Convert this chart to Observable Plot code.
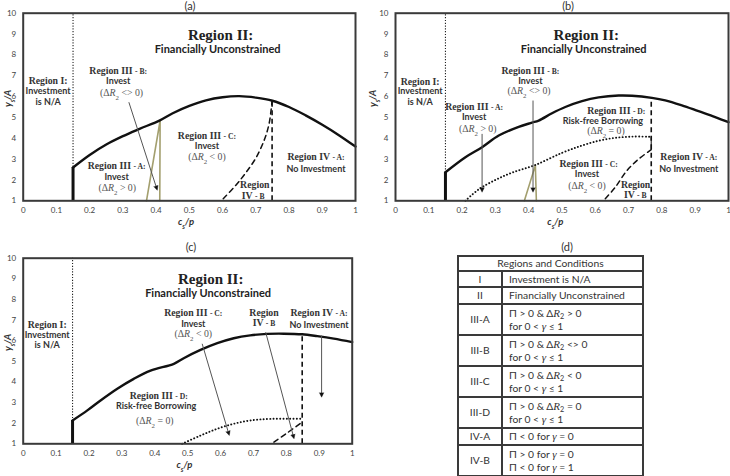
<!DOCTYPE html>
<html><head><meta charset="utf-8">
<script src="https://cdn.jsdelivr.net/npm/d3@7"></script>
<script src="https://cdn.jsdelivr.net/npm/@observablehq/plot@0.6"></script>
<style>
body{margin:0;background:#fff;}
#root{position:relative;width:730px;height:476px;overflow:hidden;background:#fff;}
.panel{position:absolute;}
.ttl{position:absolute;font:11px Lato,sans-serif;color:#333;transform:translate(-50%,-50%);line-height:1;white-space:nowrap;}
#tbl{position:absolute;left:457px;top:255px;}
#tbl table{border-collapse:collapse;table-layout:fixed;width:185px;font:10.3px Lato,sans-serif;color:#333;}
#tbl td{border:2px solid #3a3a3a;padding:0 0 0 6px;line-height:13px;vertical-align:middle;white-space:nowrap;overflow:hidden;}
#tbl td.c0{text-align:center;padding:0;}
#tbl td.hd{text-align:center;padding:0;}
#tbl i{font-family:"Liberation Serif",serif;font-size:11px;}
#tbl sub{font-size:70%;vertical-align:-2px;line-height:0;}
</style></head><body><div id="root"></div>
<script>
// ---------- shared axis ticks ----------
const xTicks = [0, 0.1, 0.2, 0.3, 0.4, 0.5, 0.6, 0.7, 0.8, 0.9, 1];
const yTicks = [1, 2, 3, 4, 5, 6, 7, 8, 9, 10];
const panelTitles = ["(a)", "(b)", "(c)", "(d)"];

// ---------- panel (a) ----------
const aBoundaryI = 0.15;
const aCurveX = [0.15, 0.2, 0.25, 0.3, 0.35, 0.41, 0.45, 0.5, 0.55, 0.6, 0.65, 0.7, 0.75, 0.8, 0.85, 0.9, 0.95, 1.0];
const aCurveY = [2.6, 3.2, 3.7, 4.1, 4.45, 4.85, 5.2, 5.55, 5.82, 5.97, 6.02, 5.95, 5.8, 5.5, 5.1, 4.65, 4.15, 3.6];
const aOliveX = [0.371, 0.412, 0.411];
const aOliveY = [1.0, 4.84, 1.0];
const aDashedX = [0.602, 0.64, 0.67, 0.7, 0.725, 0.74, 0.749];
const aDashedY = [1.1, 1.75, 2.35, 3.05, 3.9, 4.7, 5.8];
const aDashedVX = 0.749, aDashedVTop = 5.8;
const aArrowX1 = [0.318], aArrowY1 = [5.73], aArrowX2 = [0.402], aArrowY2 = [1.58];
const aLabelText = ["Region I:", "Investment", "is N/A", "Region II:", "Financially Unconstrained",
  "Region III ^- B:^", "Invest", "(Δ{R}[2] <> 0)",
  "Region III ^- A:^", "Invest", "(Δ{R}[2] > 0)",
  "Region III ^- C:^", "Invest", "(Δ{R}[2] < 0)",
  "Region IV ^- A:^", "No Investment", "Region", "IV ^- B^"];
const aLabelX = [0.075, 0.075, 0.075, 0.594, 0.585, 0.286, 0.286, 0.296, 0.281, 0.281, 0.283, 0.553, 0.553, 0.553, 0.881, 0.881, 0.697, 0.692];
const aLabelY = [6.77, 6.26, 5.73, 8.95, 8.24, 7.21, 6.72, 6.18, 2.66, 2.13, 1.62, 4.13, 3.6, 3.09, 3.09, 2.53, 1.77, 1.26];
const aLabelKind = ["region", "note", "note", "head", "head2", "region", "note", "math", "region", "note", "math", "region", "note", "math", "region", "note", "region", "region"];

// ---------- panel (b) ----------
const bBoundaryI = 0.15;
const bCurveX = [0.15, 0.21, 0.26, 0.31, 0.37, 0.41, 0.43, 0.47, 0.51, 0.56, 0.61, 0.67, 0.71, 0.77, 0.81, 0.86, 0.91, 0.96, 1.0];
const bCurveY = [2.37, 3.09, 3.57, 4.13, 4.55, 4.75, 4.85, 5.2, 5.5, 5.78, 5.96, 6.05, 6.04, 5.94, 5.82, 5.58, 5.3, 5.02, 4.77];
const bDottedX = [0.21, 0.25, 0.3, 0.35, 0.42, 0.5, 0.56, 0.61, 0.66, 0.71, 0.768];
const bDottedY = [1.0, 1.55, 2.0, 2.35, 2.72, 3.3, 3.65, 3.88, 4.02, 4.08, 4.07];
const bOliveX = [0.387, 0.42, 0.423];
const bOliveY = [1.0, 2.7, 1.0];
const bDashedX = [0.63, 0.66, 0.695, 0.73, 0.768];
const bDashedY = [1.1, 1.65, 2.45, 3.0, 3.45];
const bConnectorY = [3.45, 4.07];
const bDashedVX = 0.768, bDashedVTop = 5.94;
const bArrowX1 = [0.26, 0.413], bArrowY1 = [4.21, 5.81], bArrowX2 = [0.26, 0.413], bArrowY2 = [1.49, 1.49];
const bLabelText = ["Region I:", "Investment", "is N/A", "Region II:", "Financially Unconstrained",
  "Region III ^- B:^", "Invest", "(Δ{R}[2] <> 0)",
  "Region III ^- A:^", "Invest", "(Δ{R}[2] > 0)",
  "Region III ^- D:^", "Risk-free Borrowing", "(Δ{R}[2] = 0)",
  "Region III ^- C:^", "Invest", "(Δ{R}[2] < 0)",
  "Region IV ^- A:^", "No Investment", "Region", "IV ^- B^"];
const bLabelX = [0.074, 0.074, 0.074, 0.573, 0.565, 0.405, 0.405, 0.401, 0.236, 0.236, 0.247, 0.663, 0.623, 0.632, 0.58, 0.575, 0.575, 0.881, 0.881, 0.721, 0.72];
const bLabelY = [6.73, 6.26, 5.73, 8.96, 8.28, 7.25, 6.73, 6.26, 5.52, 5.01, 4.45, 5.33, 4.82, 4.34, 2.77, 2.26, 1.72, 3.12, 2.53, 1.78, 1.29];
const bLabelKind = ["region", "note", "note", "head", "head2", "region", "note", "math", "region", "note", "math", "region", "note", "math", "region", "note", "math", "region", "note", "region", "region"];

// ---------- panel (c) ----------
const cBoundaryI = 0.15;
const cCurveX = [0.15, 0.195, 0.235, 0.286, 0.336, 0.387, 0.458, 0.488, 0.539, 0.59, 0.64, 0.69, 0.742, 0.792, 0.848, 0.894, 0.944, 1.0];
const cCurveY = [2.13, 2.62, 3.1, 3.67, 4.15, 4.55, 4.88, 5.15, 5.55, 5.88, 6.12, 6.26, 6.33, 6.34, 6.31, 6.22, 6.1, 5.93];
const cDottedX = [0.483, 0.539, 0.59, 0.64, 0.69, 0.752, 0.848];
const cDottedY = [1.0, 1.4, 1.73, 1.97, 2.13, 2.21, 2.21];
const cDashedX = [0.762, 0.8, 0.848];
const cDashedY = [1.08, 1.5, 2.05];
const cDashedVX = 0.848, cDashedVTop = 6.31;
const cArrowX1 = [0.544, 0.737, 0.907], cArrowY1 = [5.85, 6.41, 6.25], cArrowX2 = [0.625, 0.822, 0.907], cArrowY2 = [1.48, 1.32, 3.34];
const cLabelText = ["Region I:", "Investment", "is N/A", "Region II:", "Financially Unconstrained",
  "Region III ^- C:^", "Invest", "(Δ{R}[2] < 0)",
  "Region", "IV ^- B^", "Region IV ^- A:^", "No Investment",
  "Region III ^- D:^", "Risk-free Borrowing", "(Δ{R}[2] = 0)"];
const cLabelX = [0.073, 0.073, 0.073, 0.57, 0.562, 0.517, 0.517, 0.517, 0.732, 0.732, 0.899, 0.899, 0.412, 0.404, 0.4];
const cLabelY = [6.77, 6.28, 5.77, 9.0, 8.27, 7.35, 6.82, 6.33, 7.35, 6.86, 7.35, 6.77, 3.34, 2.81, 2.13];
const cLabelKind = ["region", "note", "note", "head", "head2", "region", "note", "math", "region", "region", "region", "note", "region", "note", "math"];

// ---------- table (d) ----------
const tableHeader = "Regions and Conditions";
const tableRegions = ["I", "II", "III-A", "III-B", "III-C", "III-D", "IV-A", "IV-B"];
const tableConditions = [
  ["Investment is N/A"],
  ["Financially Unconstrained"],
  ["Π > 0 & Δ{R}[2] > 0", "for 0 < {γ} ≤ 1"],
  ["Π > 0 & Δ{R}[2] <> 0", "for 0 < {γ} ≤ 1"],
  ["Π > 0 & Δ{R}[2] < 0", "for 0 < {γ} ≤ 1"],
  ["Π > 0 & Δ{R}[2] = 0", "for 0 < {γ} ≤ 1"],
  ["Π < 0 for {γ} = 0"],
  ["Π > 0  for {γ} = 0", "Π < 0  for {γ} = 1"]
];

// ---------- helpers ----------
const STYLE = {
  head:  {fontFamily: "Liberation Serif", fontWeight: "bold", fontSize: 15, fill: "#222"},
  head2: {fontFamily: "Lato", fontWeight: "bold", fontSize: 11, fill: "#222"},
  region:{fontFamily: "Liberation Serif", fontWeight: "bold", fontSize: 9.8, fill: "#333"},
  note:  {fontFamily: "Lato", fontWeight: "bold", fontSize: 9, fill: "#333"},
  math:  {fontFamily: "Liberation Serif", fontWeight: "normal", fontSize: 9.8, fill: "#555"}
};
function parseRich(s) {
  const out = []; const re = /\{([^}]*)\}|\[([^\]]*)\]|\^([^^]*)\^/g;
  let last = 0, m;
  while ((m = re.exec(s))) {
    if (m.index > last) out.push({t: s.slice(last, m.index)});
    if (m[1] !== undefined) out.push({t: m[1], italic: true});
    else if (m[2] !== undefined) out.push({t: m[2], sub: true});
    else out.push({t: m[3], small: true});
    last = re.lastIndex;
  }
  if (last < s.length) out.push({t: s.slice(last)});
  return out;
}
function richify(svg) {
  d3.select(svg).selectAll("text").each(function() {
    const s = this.textContent;
    if (!/[{}\[\]^]/.test(s)) return;
    const parts = parseRich(s);
    while (this.firstChild) this.removeChild(this.firstChild);
    for (const p of parts) {
      const ts = document.createElementNS("http://www.w3.org/2000/svg", "tspan");
      ts.textContent = p.t;
      if (p.italic) ts.setAttribute("font-style", "italic");
      if (p.sub) { ts.setAttribute("baseline-shift", "sub"); ts.setAttribute("font-size", "70%"); }
      if (p.small) ts.setAttribute("font-size", "78%");
      this.appendChild(ts);
    }
  });
  d3.select(svg).selectAll("marker").attr("fill", "#111").attr("stroke", "#111").attr("stroke-width", 0.5)
    .selectAll("path").attr("d", "M-4,-3.2L2.5,0L-4,3.2Z");
}
const pts = (xs, ys) => xs.map((x, i) => ({x, y: ys[i]}));

function buildPanel(c) {
  const marks = [];
  marks.push(Plot.ruleX([{x: c.boundaryI, y1: 1, y2: 10}], {x: "x", y1: "y1", y2: "y2", stroke: "#222", strokeWidth: 1.1, strokeDasharray: "1.2,1.6"}));
  marks.push(Plot.ruleX([{x: c.boundaryI, y1: 1, y2: c.curveY[0]}], {x: "x", y1: "y1", y2: "y2", stroke: "#111", strokeWidth: 3}));
  if (c.oliveX) marks.push(Plot.line(pts(c.oliveX, c.oliveY), {x: "x", y: "y", stroke: "#a39f6e", strokeWidth: 1.6}));
  if (c.dottedX) marks.push(Plot.line(pts(c.dottedX, c.dottedY), {x: "x", y: "y", stroke: "#111", strokeWidth: 1.9, strokeDasharray: "0.1,3.2", strokeLinecap: "round", curve: "catmull-rom"}));
  marks.push(Plot.line(pts(c.dashedX, c.dashedY), {x: "x", y: "y", stroke: "#111", strokeWidth: 1.5, strokeDasharray: "5,4", curve: "catmull-rom"}));
  if (c.connectorY) marks.push(Plot.ruleX([{x: c.dashedVX, y1: c.connectorY[0], y2: c.connectorY[1]}], {x: "x", y1: "y1", y2: "y2", stroke: "#333", strokeWidth: 1.2}));
  marks.push(Plot.ruleX([{x: c.dashedVX, y1: 1, y2: c.dashedVTop}], {x: "x", y1: "y1", y2: "y2", stroke: "#111", strokeWidth: 1.6, strokeDasharray: "5,3.5"}));
  marks.push(Plot.line(pts(c.curveX, c.curveY), {x: "x", y: "y", stroke: "#111", strokeWidth: 2.4, curve: "catmull-rom"}));
  const arrows = c.arrowX1.map((x1, i) => ({x1, y1: c.arrowY1[i], x2: c.arrowX2[i], y2: c.arrowY2[i]}));
  marks.push(Plot.link(arrows, {x1: "x1", y1: "y1", x2: "x2", y2: "y2", stroke: "#555", strokeWidth: 1, markerEnd: "arrow"}));
  const labels = c.labelText.map((t, i) => ({t, x: c.labelX[i], y: c.labelY[i], k: c.labelKind[i]}));
  for (const k of Object.keys(STYLE)) {
    marks.push(Plot.text(labels.filter(d => d.k === k), {x: "x", y: "y", text: "t", ...STYLE[k]}));
  }
  marks.push(Plot.frame({stroke: "#3a3a3a", strokeWidth: 2}));
  marks.push(Plot.axisX({ticks: xTicks, tickSize: 0, tickPadding: 7, fontSize: 8, tickFormat: d => String(d), label: null}));
  marks.push(Plot.axisY({ticks: yTicks, tickSize: 0, tickPadding: 7, fontSize: 8, tickFormat: d => String(d), label: null}));
  marks.push(Plot.text(["y[s]/A"], {frameAnchor: "left", dx: -c.m[3] + 7, y: [c.ylabelY], text: d => d, rotate: -90, fontFamily: "Lato", fontWeight: "bold", fontStyle: "italic", fontSize: 9.5, fill: "#333"}));
  marks.push(Plot.text(["c[s]/p"], {frameAnchor: "bottom", dy: 24, x: [c.xlabelX], text: d => d, fontFamily: "Lato", fontWeight: "bold", fontStyle: "italic", fontSize: 9.5, fill: "#333"}));
  const svg = Plot.plot({
    width: c.w, height: c.h,
    marginTop: c.m[0], marginRight: c.m[1], marginBottom: c.m[2], marginLeft: c.m[3],
    x: {domain: [0, 1]}, y: {domain: [1, 10]},
    style: {color: "#444", fontFamily: "Lato", background: "transparent", overflow: "visible"},
    marks
  });
  richify(svg);
  const div = document.createElement("div");
  div.className = "panel"; div.style.left = c.left + "px"; div.style.top = c.top + "px";
  div.appendChild(svg);
  document.getElementById("root").appendChild(div);
}

buildPanel({left: 0, top: 0, w: 365, h: 230, m: [12.7, 10, 29.7, 22.7], boundaryI: aBoundaryI,
  curveX: aCurveX, curveY: aCurveY, oliveX: aOliveX, oliveY: aOliveY, dashedX: aDashedX, dashedY: aDashedY,
  dashedVX: aDashedVX, dashedVTop: aDashedVTop, arrowX1: aArrowX1, arrowY1: aArrowY1, arrowX2: aArrowX2, arrowY2: aArrowY2,
  labelText: aLabelText, labelX: aLabelX, labelY: aLabelY, labelKind: aLabelKind, ylabelY: 5.5, xlabelX: 0.49});
buildPanel({left: 365, top: 0, w: 365, h: 230, m: [12.7, 2, 29.7, 30], boundaryI: bBoundaryI,
  curveX: bCurveX, curveY: bCurveY, oliveX: bOliveX, oliveY: bOliveY, dottedX: bDottedX, dottedY: bDottedY,
  dashedX: bDashedX, dashedY: bDashedY, connectorY: bConnectorY,
  dashedVX: bDashedVX, dashedVTop: bDashedVTop, arrowX1: bArrowX1, arrowY1: bArrowY1, arrowX2: bArrowX2, arrowY2: bArrowY2,
  labelText: bLabelText, labelX: bLabelX, labelY: bLabelY, labelKind: bLabelKind, ylabelY: 5.5, xlabelX: 0.48});
buildPanel({left: 0, top: 225, w: 365, h: 251, m: [32.7, 13.3, 32.7, 22.7], boundaryI: cBoundaryI,
  curveX: cCurveX, curveY: cCurveY, dottedX: cDottedX, dottedY: cDottedY,
  dashedX: cDashedX, dashedY: cDashedY,
  dashedVX: cDashedVX, dashedVTop: cDashedVTop, arrowX1: cArrowX1, arrowY1: cArrowY1, arrowX2: cArrowX2, arrowY2: cArrowY2,
  labelText: cLabelText, labelX: cLabelX, labelY: cLabelY, labelKind: cLabelKind, ylabelY: 5.5, xlabelX: 0.49});

// titles
const titlePos = [[190, 5], [568, 5], [191, 246], [567, 246]];
panelTitles.forEach((t, i) => {
  const d = document.createElement("div"); d.className = "ttl"; d.textContent = t;
  d.style.left = titlePos[i][0] + "px"; d.style.top = titlePos[i][1] + "px";
  document.getElementById("root").appendChild(d);
});

// table (d)
function richHTML(el, s) {
  for (const p of parseRich(s)) {
    let n;
    if (p.italic) { n = document.createElement("i"); n.textContent = p.t; }
    else if (p.sub) { n = document.createElement("sub"); n.textContent = p.t; }
    else n = document.createTextNode(p.t);
    el.appendChild(n);
  }
}
const rowHeights = [14, 16, 17, 31, 31, 31, 31, 17, 31];
const tblDiv = document.createElement("div"); tblDiv.id = "tbl";
const table = document.createElement("table");
const cg = document.createElement("colgroup");
[44, 141].forEach(w => { const col = document.createElement("col"); col.style.width = w + "px"; cg.appendChild(col); });
table.appendChild(cg);
const hr = table.insertRow(); hr.style.height = rowHeights[0] + "px";
const hc = hr.insertCell(); hc.colSpan = 2; hc.className = "hd"; hc.textContent = tableHeader;
tableRegions.forEach((r, i) => {
  const tr = table.insertRow(); tr.style.height = rowHeights[i + 1] + "px";
  const c0 = tr.insertCell(); c0.className = "c0"; c0.textContent = r;
  const c1 = tr.insertCell();
  tableConditions[i].forEach((line, j) => {
    if (j) c1.appendChild(document.createElement("br"));
    richHTML(c1, line);
  });
});
tblDiv.appendChild(table);
document.getElementById("root").appendChild(tblDiv);
</script>
</body></html>
